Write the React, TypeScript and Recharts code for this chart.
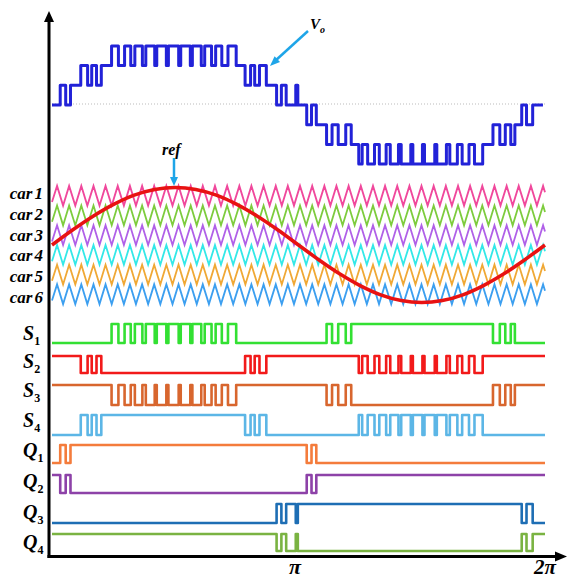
import React from 'react'
import { ComposedChart, Line, Scatter, XAxis, YAxis } from 'recharts'

// angles in degrees over one period (0..360); every edge toggles the switch state
const s1Start = 0
const s1Edges = [43.5, 48.5, 53, 57.5, 60.5, 66, 68.5, 75, 76.5, 83.5, 85, 92.5, 94, 101, 102.5, 109, 111.5, 116.5, 119.5, 124, 128.5, 134.5,
  200.5, 204.5, 209, 214.5, 218.5, 322, 327, 331, 335, 338]
const s2Start = 1
const s2Edges = [21, 26, 29, 32.5, 36, 141, 145, 148, 151.5, 156.5,
  224, 226.5, 230.5, 235.5, 239, 244, 247, 253, 255, 262, 263.5, 270.5, 272, 279.5, 281, 288, 290.5, 296, 299.5, 304.5, 308.5, 314.5]
const q1Start = 0
const q1Edges = [6, 10, 13.5, 186, 189.5, 193]
const q3Start = 0
const q3Edges = [164, 167.5, 171, 178, 179.5, 343, 346.5, 351]

// output voltage level after each edge
const voEdges = [6, 10, 13.5, 21, 26, 29, 32.5, 36,
  43.5, 48.5, 53, 57.5, 60.5, 66, 68.5, 75, 76.5, 83.5, 85, 92.5, 94, 101, 102.5, 109, 111.5, 116.5, 119.5, 124, 128.5, 134.5,
  141, 145, 148, 151.5, 156.5, 164, 167.5, 171, 178, 179.5, 186, 189.5, 193,
  200.5, 204.5, 209, 214.5, 218.5,
  224, 226.5, 230.5, 235.5, 239, 244, 247, 253, 255, 262, 263.5, 270.5, 272, 279.5, 281, 288, 290.5, 296, 299.5, 304.5, 308.5, 314.5,
  322, 327, 331, 335, 338, 343, 346.5, 351]
const voLevels = [1, 0, 1, 2, 1, 2, 1, 2,
  3, 2, 3, 2, 3, 2, 3, 2, 3, 2, 3, 2, 3, 2, 3, 2, 3, 2, 3, 2, 3, 2,
  1, 2, 1, 2, 1, 0, 1, 0, 1, 0, -1, 0, -1,
  -2, -1, -2, -1, -2,
  -3, -2, -3, -2, -3, -2, -3, -2, -3, -2, -3, -2, -3, -2, -3, -2, -3, -2, -3, -2, -3, -2,
  -1, -2, -1, -2, -1, 0, -1, 0]

// triangular carriers (all in phase)
const carrierPeaks = [3.7, 12.5, 21.4, 30.3, 39.1, 48.0, 56.9, 65.8, 74.6, 83.5, 92.4, 101.3, 110.1, 119.0, 127.9, 136.8, 145.6, 154.5,
  163.4, 172.2, 181.1, 190.0, 198.9, 207.7, 216.6, 225.5, 234.4, 243.2, 252.1, 261.0, 269.8, 278.7, 287.6, 296.5, 305.3, 314.2,
  323.1, 332.0, 340.8, 349.7, 358.6]
const carrierTroughs = [8.1, 17.0, 25.8, 34.7, 43.6, 52.5, 61.3, 70.2, 79.1, 88.0, 96.8, 105.7, 114.6, 123.4, 132.3, 141.2, 150.1,
  158.9, 167.8, 176.7, 185.6, 194.4, 203.3, 212.2, 221.0, 229.9, 238.8, 247.7, 256.5, 265.4, 274.3, 283.2, 292.0, 300.9, 309.8,
  318.7, 327.5, 336.4, 345.3, 354.1]
const carrierEnds = [0.18, 0.68]
const carrierNames = ['car1', 'car2', 'car3', 'car4', 'car5', 'car6']

// reference sine, in carrier-band units
const refDeg = [0, 15, 30, 45, 60, 75, 90, 105, 120, 135, 150, 165, 180, 195, 210, 225, 240, 255, 270, 285, 300, 315, 330, 345, 360]
const refVal = [0, 0.76, 1.46, 2.06, 2.53, 2.82, 2.92, 2.82, 2.53, 2.06, 1.46, 0.76, 0, -0.76, -1.46, -2.06, -2.53, -2.82, -2.92,
  -2.82, -2.53, -2.06, -1.46, -0.76, 0]

const W = 567
const H = 578
const PX0 = 52
const PX_PER_DEG = 493 / 360
const deg = (px: number) => (px - PX0) / PX_PER_DEG

const FONT = "'Liberation Serif', 'DejaVu Serif', serif"

const CAR_MID = 245
const CAR_UNIT = 19.7
const carrierColors = ['#f0489c', '#7dcc3d', '#b060e8', '#33e8e8', '#f0a835', '#3c9ff0']

const VO_ZERO = 105
const VO_STEP = 19.7

const traces = [
  { key: 'S1', edges: s1Edges, start: s1Start, invert: false, high: 324, low: 343, color: '#33e033', base: 340 },
  { key: 'S2', edges: s2Edges, start: s2Start, invert: false, high: 356, low: 373, color: '#f21a1a', base: 368 },
  { key: 'S3', edges: s1Edges, start: s1Start, invert: true, high: 385, low: 405, color: '#d8662e', base: 397 },
  { key: 'S4', edges: s2Edges, start: s2Start, invert: true, high: 415, low: 435, color: '#5cb6e6', base: 427 },
  { key: 'Q1', edges: q1Edges, start: q1Start, invert: false, high: 445, low: 463, color: '#f47c3c', base: 457 },
  { key: 'Q2', edges: q1Edges, start: q1Start, invert: true, high: 475, low: 493, color: '#8d42a8', base: 488 },
  { key: 'Q3', edges: q3Edges, start: q3Start, invert: false, high: 504, low: 523, color: '#1e6eb4', base: 519 },
  { key: 'Q4', edges: q3Edges, start: q3Start, invert: true, high: 534, low: 551, color: '#7ab342', base: 549 },
]

function stepRows(edges: number[], start: number, high: number, low: number) {
  let on = start
  const rows = [{ x: 0, y: on ? high : low }]
  edges.forEach((e) => {
    on = 1 - on
    rows.push({ x: e, y: on ? high : low })
  })
  rows.push({ x: 360, y: on ? high : low })
  return rows
}

const voRows = [{ x: 0, y: VO_ZERO }]
voEdges.forEach((e, i) => voRows.push({ x: e, y: VO_ZERO - voLevels[i] * VO_STEP }))
voRows.push({ x: 358.5, y: VO_ZERO - voLevels[voLevels.length - 1] * VO_STEP })

function carrierRows(band: number) {
  const verts = [
    { x: 0, v: carrierEnds[0] },
    ...carrierPeaks.map((x) => ({ x, v: 1 })),
    ...carrierTroughs.map((x) => ({ x, v: 0 })),
    { x: 360, v: carrierEnds[1] },
  ].sort((a, b) => a.x - b.x)
  return verts.map((p) => ({ x: p.x, y: CAR_MID - (2 - band + p.v) * CAR_UNIT }))
}

const refRows = refDeg.map((x, i) => ({ x, y: CAR_MID - refVal[i] * CAR_UNIT }))

const arrowHeads = [
  { x: deg(49), y: 11, angle: -90, len: 11, wid: 10, color: '#000' },
  { x: deg(567), y: 556.5, angle: 0, len: 12, wid: 10, color: '#000' },
  { x: deg(174), y: 186, angle: 90, len: 9, wid: 8, color: '#1ea5e8' },
  { x: deg(270), y: 66, angle: 137, len: 10, wid: 8, color: '#1ea5e8' },
]

function ArrowHead(props: any) {
  const { cx, cy } = props
  const p = props.payload ?? props
  return (
    <polygon
      transform={`translate(${cx},${cy}) rotate(${p.angle})`}
      points={`0,0 ${-p.len},${-p.wid / 2} ${-p.len},${p.wid / 2}`}
      fill={p.color}
    />
  )
}

const plain = { dot: false, activeDot: false, isAnimationActive: false, legendType: 'none' as const }

export default function App() {
  return (
    <div style={{ position: 'absolute', left: 0, top: 0, width: W, height: H, background: '#fff' }}>
      <ComposedChart width={W} height={H} margin={{ top: 0, right: 0, bottom: 0, left: 0 }}>
        <XAxis type="number" dataKey="x" domain={[deg(0), deg(W)]} allowDataOverflow hide />
        <YAxis type="number" dataKey="y" domain={[0, H]} reversed allowDataOverflow hide />

        <Line data={[{ x: 0, y: 104 }, { x: 360, y: 104 }]} dataKey="y" stroke="#bbbbbb" strokeWidth={1} strokeDasharray="1 2" {...plain} />
        <Line data={voRows} dataKey="y" type="stepAfter" stroke="#2222d8" strokeWidth={3} strokeLinejoin="round" {...plain} />

        {carrierNames.map((n, i) => (
          <Line key={n} data={carrierRows(i)} dataKey="y" stroke={carrierColors[i]} strokeWidth={1.8} {...plain} />
        ))}
        <Line data={refRows} dataKey="y" type="monotone" stroke="#e81212" strokeWidth={3.5} {...plain} />

        {traces.map((t) => (
          <Line
            key={t.key}
            data={stepRows(t.edges, t.invert ? 1 - t.start : t.start, t.high, t.low)}
            dataKey="y"
            type="stepAfter"
            stroke={t.color}
            strokeWidth={2.6}
            strokeLinejoin="round"
            {...plain}
          />
        ))}

        <Line data={[{ x: deg(49), y: 558 }, { x: deg(49), y: 18 }]} dataKey="y" stroke="#000" strokeWidth={3} {...plain} />
        <Line data={[{ x: deg(47.5), y: 556.5 }, { x: deg(558), y: 556.5 }]} dataKey="y" stroke="#000" strokeWidth={3} {...plain} />
        <Line data={[{ x: deg(174), y: 158 }, { x: deg(174), y: 179 }]} dataKey="y" stroke="#1ea5e8" strokeWidth={2.5} {...plain} />
        <Line data={[{ x: deg(308), y: 31 }, { x: deg(275), y: 61 }]} dataKey="y" stroke="#1ea5e8" strokeWidth={2.5} {...plain} />
        <Scatter data={arrowHeads} shape={ArrowHead} isAnimationActive={false} legendType="none" />
      </ComposedChart>

      <svg
        width={W}
        height={H}
        style={{ position: 'absolute', left: 0, top: 0, pointerEvents: 'none' }}
        fontFamily={FONT}
        fontWeight="bold"
        fontStyle="italic"
        fill="#000"
      >
        {carrierNames.map((n, i) => (
          <text key={n} x={43} y={199 + i * 20.8} textAnchor="end" fontSize={17}>
            <tspan>{n.slice(0, 3)}</tspan>
            <tspan dx={2}>{n.slice(3)}</tspan>
          </text>
        ))}
        {traces.map((t) => (
          <text key={t.key} x={23} y={t.base} fontSize={20}>
            {t.key[0]}
            <tspan fontSize={12} fontStyle="normal" dy={5}>{t.key[1]}</tspan>
          </text>
        ))}
        <text x={162} y={155} fontSize={16}>ref</text>
        <text x={310} y={29} fontSize={15}>
          V<tspan fontSize={10} dy={4}>o</tspan>
        </text>
        <text x={295} y={574} fontSize={22} textAnchor="middle">π</text>
        <text x={545} y={574} fontSize={21} textAnchor="middle">2π</text>
      </svg>
    </div>
  )
}
